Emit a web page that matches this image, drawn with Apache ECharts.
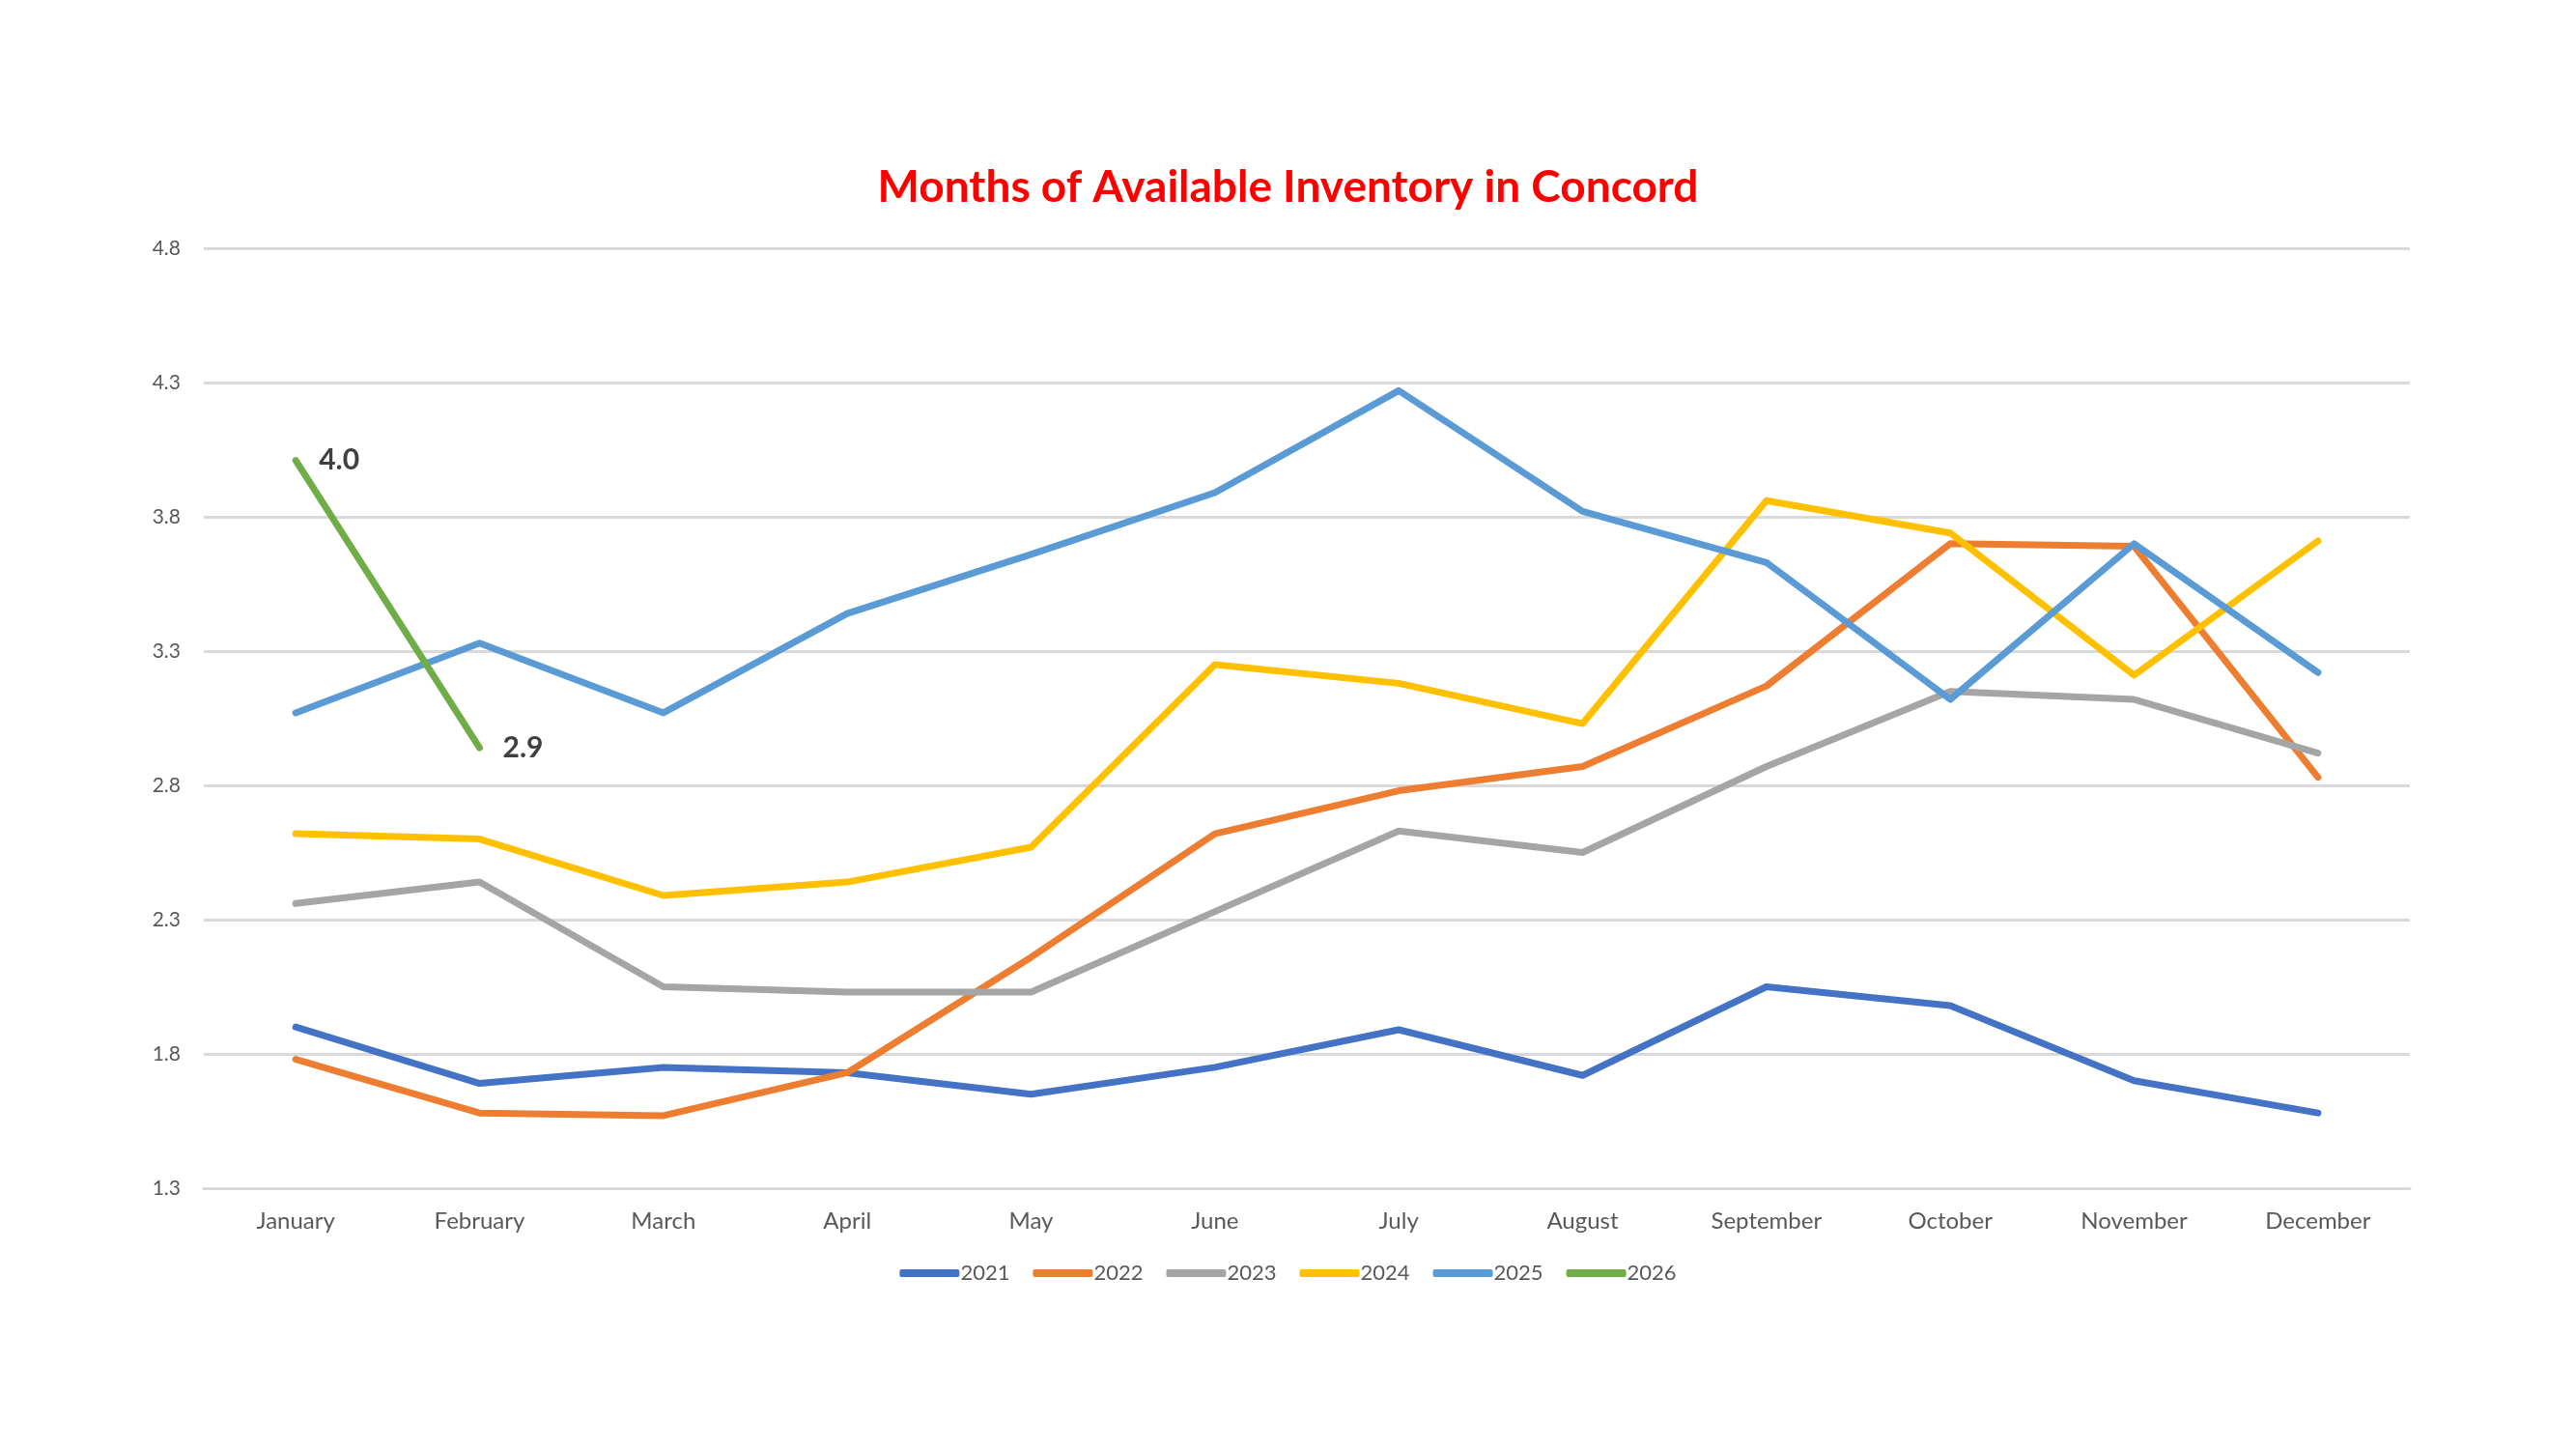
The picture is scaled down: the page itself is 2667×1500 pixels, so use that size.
<!DOCTYPE html>
<html>
<head>
<meta charset="utf-8">
<script src="https://cdn.jsdelivr.net/npm/echarts@6/dist/echarts.min.js"></script>
<style>
  html, body { margin: 0; padding: 0; background: #fff; }
  #chart { width: 2667px; height: 1500px; }
</style>
</head>
<body>
<div id="chart"></div>
<script>
// months on the x axis
var months = ['January', 'February', 'March', 'April', 'May', 'June',
  'July', 'August', 'September', 'October', 'November', 'December'];

// months of inventory per year
var y2021 = [1.90, 1.69, 1.75, 1.73, 1.65, 1.75, 1.89, 1.72, 2.05, 1.98, 1.70, 1.58];
var y2022 = [1.78, 1.58, 1.57, 1.73, 2.16, 2.62, 2.78, 2.87, 3.17, 3.70, 3.69, 2.83];
var y2023 = [2.36, 2.44, 2.05, 2.03, 2.03, 2.33, 2.63, 2.55, 2.87, 3.15, 3.12, 2.92];
var y2024 = [2.62, 2.60, 2.39, 2.44, 2.57, 3.25, 3.18, 3.03, 3.86, 3.74, 3.21, 3.71];
var y2025 = [3.07, 3.33, 3.07, 3.44, 3.66, 3.89, 4.27, 3.82, 3.63, 3.12, 3.70, 3.22];
var y2026 = [4.01, 2.94];

var years = ['2021', '2022', '2023', '2024', '2025', '2026'];
var colors = ['#4472C4', '#ED7D31', '#A5A5A5', '#FFC000', '#5B9BD5', '#70AD47'];

var chart = echarts.init(document.getElementById('chart'));

function line(name, data, color, labels) {
  return {
    name: name,
    type: 'line',
    data: data,
    // tiny invisible symbol so the value labels still get drawn
    symbol: labels ? 'circle' : 'none',
    symbolSize: 0.1,
    showSymbol: !!labels,
    smooth: false,
    lineStyle: { width: 7, color: color, cap: 'round', join: 'round' },
    itemStyle: { color: color },
    label: {
      show: !!labels,
      position: 'right',
      distance: 24,
      fontFamily: 'Lato',
      fontWeight: 'bold',
      fontSize: 30,
      color: '#404040',
      formatter: function (p) { return p.value.toFixed(1); }
    },
    animation: false
  };
}

var option = {
  backgroundColor: '#ffffff',
  color: colors,
  title: {
    text: 'Months of Available Inventory in Concord',
    left: 'center',
    top: 166,
    textStyle: {
      fontFamily: 'Lato',
      fontWeight: 'bold',
      fontSize: 46,
      color: '#FF0000'
    }
  },
  legend: {
    data: years,
    bottom: 166,
    left: 'center',
    icon: 'roundRect',
    itemWidth: 62,
    itemHeight: 8,
    itemGap: 24,
    textStyle: { fontFamily: 'Lato', fontSize: 22, color: '#595959', padding: [0, 0, 0, -4] }
  },
  grid: { left: 211, right: 172, top: 257, bottom: 270 },
  xAxis: {
    type: 'category',
    data: months,
    boundaryGap: true,
    axisLine: { show: true, lineStyle: { color: '#D9D9D9', width: 3 } },
    axisTick: { show: false },
    axisLabel: { fontFamily: 'Lato', fontSize: 24, color: '#595959', margin: 22 }
  },
  yAxis: {
    type: 'value',
    min: 1.3,
    max: 4.8,
    interval: 0.5,
    axisLine: { show: false },
    axisTick: { show: false },
    splitLine: { lineStyle: { color: '#D9D9D9', width: 3 } },
    axisLabel: {
      fontFamily: 'Lato', fontSize: 21, color: '#595959', margin: 24,
      formatter: function (v) { return v.toFixed(1); }
    }
  },
  series: [
    line('2021', y2021, colors[0]),
    line('2022', y2022, colors[1]),
    line('2023', y2023, colors[2]),
    line('2024', y2024, colors[3]),
    line('2025', y2025, colors[4]),
    line('2026', y2026, colors[5], true)
  ]
};

chart.setOption(option);
</script>
</body>
</html>
